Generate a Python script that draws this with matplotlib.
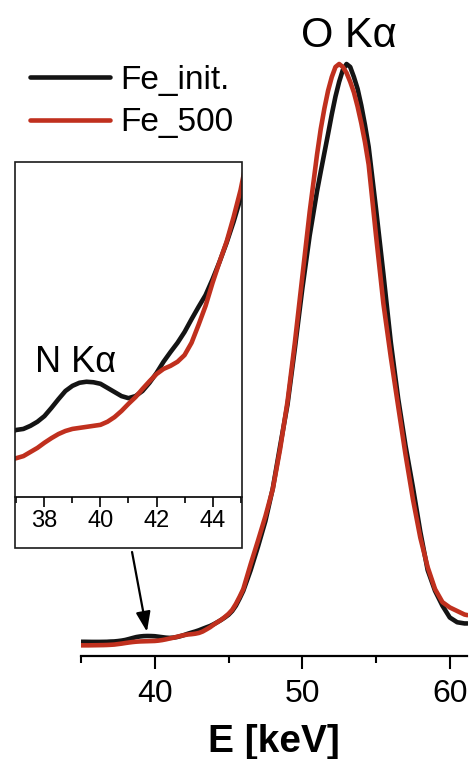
import matplotlib
matplotlib.use('Agg')
import matplotlib.pyplot as plt
from matplotlib.patches import Rectangle
from matplotlib.ticker import MultipleLocator

plt.rcParams['font.family'] = ['Liberation Sans', 'DejaVu Sans']

# ---------------- data ----------------
energy = [35.0, 35.25, 35.5, 35.75, 36.0, 36.25, 36.5, 36.75,
          37.0, 37.25, 37.5, 37.75, 38.0, 38.25, 38.5, 38.75,
          39.0, 39.25, 39.5, 39.75, 40.0, 40.25, 40.5, 40.75,
          41.0, 41.25, 41.5, 41.75, 42.0, 42.25, 42.5, 42.75,
          43.0, 43.25, 43.5, 43.75, 44.0, 44.25, 44.5, 44.75,
          45.0, 45.25, 45.5, 45.75, 46.0,
          46.5, 47.0, 47.5, 48.0, 48.5, 49.0, 49.5, 50.0, 50.5,
          51.0, 51.25, 51.5, 51.75, 52.0, 52.25, 52.5, 52.75,
          53.0, 53.25, 53.5, 53.75, 54.0, 54.25, 54.5,
          55.0, 55.5, 56.0, 56.5, 57.0, 57.5, 58.0, 58.5, 59.0, 59.5,
          60.0, 60.5, 61.0, 61.2]

fe_init = [0.0240, 0.0240, 0.0239, 0.0238, 0.0238, 0.0238, 0.0239, 0.0240,
           0.0244, 0.0246, 0.0252, 0.0260, 0.0271, 0.0287, 0.0304, 0.0320,
           0.0330, 0.0336, 0.0338, 0.0337, 0.0334, 0.0326, 0.0318, 0.0310,
           0.0306, 0.0310, 0.0320, 0.0336, 0.0355, 0.0377, 0.0396, 0.0414,
           0.0435, 0.0460, 0.0484, 0.0507, 0.0538, 0.0572, 0.0609, 0.0650,
           0.0696, 0.076, 0.085, 0.097, 0.110,
           0.145, 0.185, 0.228, 0.283, 0.355, 0.425, 0.520, 0.620, 0.710,
           0.785, 0.818, 0.850, 0.882, 0.915, 0.945, 0.970, 0.990,
           1.000, 0.995, 0.978, 0.958, 0.930, 0.897, 0.860,
           0.755, 0.645, 0.530, 0.435, 0.355, 0.285, 0.210, 0.145, 0.110, 0.085,
           0.065, 0.057, 0.055, 0.055]

fe_500 = [0.0180, 0.0180, 0.0180, 0.0181, 0.0182, 0.0183, 0.0184, 0.0186,
          0.0189, 0.0193, 0.0201, 0.0209, 0.0219, 0.0228, 0.0236, 0.0242,
          0.0246, 0.0248, 0.0250, 0.0252, 0.0254, 0.0260, 0.0269, 0.0281,
          0.0295, 0.0308, 0.0324, 0.0339, 0.0353, 0.0363, 0.0369, 0.0377,
          0.0390, 0.0414, 0.0449, 0.0486, 0.0531, 0.0572, 0.0611, 0.0659,
          0.0712, 0.078, 0.088, 0.100, 0.113,
          0.155, 0.195, 0.236, 0.282, 0.350, 0.430, 0.530, 0.640, 0.750,
          0.847, 0.890, 0.925, 0.955, 0.978, 0.995, 1.000, 0.995,
          0.985, 0.970, 0.952, 0.928, 0.900, 0.868, 0.830,
          0.710, 0.595, 0.505, 0.422, 0.340, 0.265, 0.200, 0.150, 0.113, 0.091,
          0.082, 0.076, 0.070, 0.069]

series_labels = ['Fe_init.', 'Fe_500']
series_colors = ['#141414', '#c0301e']

main_major_ticks = [40, 50, 60]
inset_major_ticks = [38, 40, 42, 44]

# ---------------- layout helpers (pixels) ----------------
W, H = 470, 759
fig = plt.figure(figsize=(W / 100, H / 100), dpi=100)


def fx(px):
    return px / W


def fy(py):
    return 1 - py / H


# main axes
ax = fig.add_axes([fx(81), fy(656), (467.5 - 81) / W, (656 - 40) / H])
ax.set_xlim(35, 61.2)
ax.set_ylim(0, (656 - 40) / 592)

lw = 3.3
lines = []
for vals, lab, col in zip([fe_init, fe_500], series_labels, series_colors):
    ln, = ax.plot(energy, vals, color=col, lw=lw, label=lab,
                  solid_capstyle='round', solid_joinstyle='round')
    lines.append(ln)

for s in ['top', 'right', 'left']:
    ax.spines[s].set_visible(False)
ax.spines['bottom'].set_linewidth(1.6)
ax.set_yticks([])
ax.set_xticks(main_major_ticks)
ax.xaxis.set_minor_locator(MultipleLocator(5))
ax.tick_params(axis='x', which='major', direction='out', length=9.5, width=1.5,
               labelsize=23, pad=7)
ax.tick_params(axis='x', which='minor', direction='out', length=5, width=1.5)
ax.set_xlabel('E [keV]', fontsize=28, fontweight='bold', labelpad=11)

ax.text(53.17, 1.029, 'O K\u03b1', fontsize=30, ha='center', va='baseline')

# arrow pointing to N K-alpha
ax.annotate('', xy=(39.47, 0.041), xytext=(38.46, 0.1757),
            arrowprops=dict(arrowstyle='-|>,head_length=0.6,head_width=0.22',
                            color='black', lw=1.6, mutation_scale=20,
                            shrinkA=0, shrinkB=0))

# legend
fig.legend(handles=lines, labels=series_labels, loc='upper left',
           bbox_to_anchor=(fx(30), fy(65)), frameon=False, fontsize=24,
           handlelength=2.4, handletextpad=0.3, labelspacing=0.34,
           borderpad=0, borderaxespad=0)

# ---------------- inset ----------------
axin = fig.add_axes([fx(15), fy(497), (242 - 15) / W, (497 - 162) / H])
axin.set_xlim(36.95, 45.05)
axin.set_ylim(0.011325, 0.07665)
for vals, col in zip([fe_init, fe_500], series_colors):
    axin.plot(energy, vals, color=col, lw=lw,
              solid_capstyle='round', solid_joinstyle='round')
for s in ['top', 'right', 'left']:
    axin.spines[s].set_visible(False)
axin.spines['bottom'].set_linewidth(1.2)
axin.set_yticks([])
axin.set_xticks(inset_major_ticks)
axin.xaxis.set_minor_locator(MultipleLocator(1))
axin.tick_params(axis='x', which='major', direction='out', length=7.5, width=1.2,
                 labelsize=17, pad=2)
axin.tick_params(axis='x', which='minor', direction='out', length=4, width=1.2)
axin.text(37.66, 0.0357, 'N K\u03b1', fontsize=26, va='baseline')

# outer frame of inset (encloses tick labels)
frame = Rectangle((fx(15), fy(548)), (242 - 15) / W, (548 - 162) / H,
                  transform=fig.transFigure, fill=False, edgecolor='#1a1a1a',
                  lw=1.2, zorder=10)
fig.add_artist(frame)

fig.savefig('out.png', dpi=100, facecolor='white')
